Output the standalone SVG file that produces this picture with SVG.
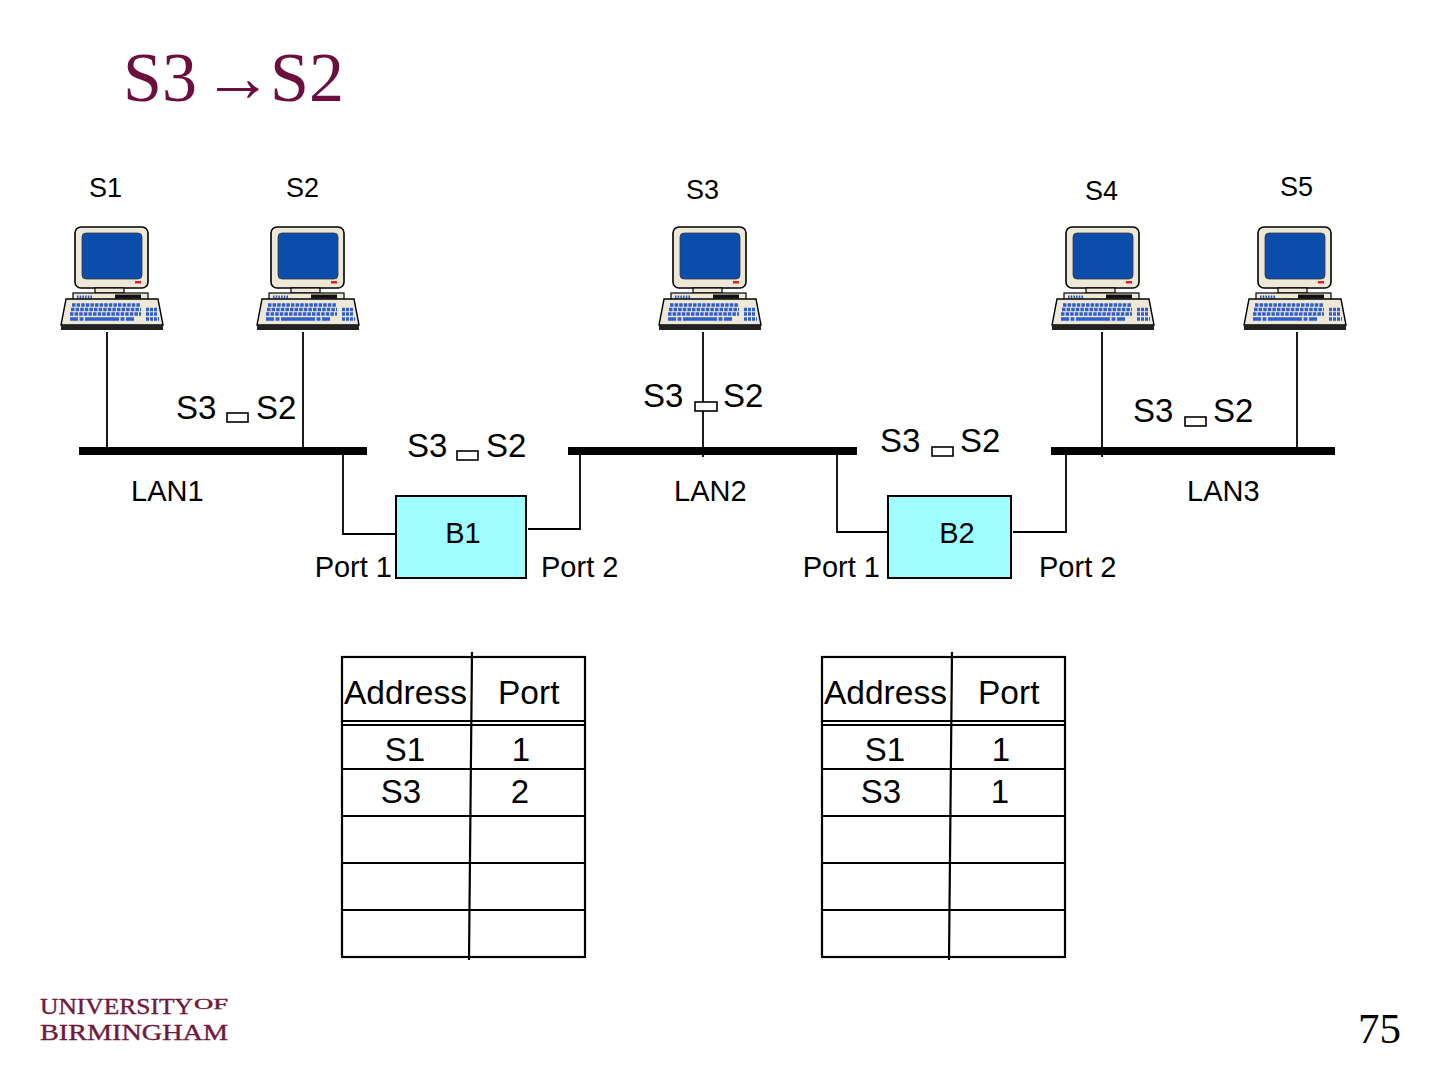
<svg xmlns="http://www.w3.org/2000/svg" xmlns:xlink="http://www.w3.org/1999/xlink" width="1440" height="1080" viewBox="0 0 1440 1080">
<style>
.lbl{font-family:"Liberation Sans",Arial,sans-serif;fill:#000}
.s{font-size:27px}
.m{font-size:33px}
.t{font-size:33.5px}
.p{font-size:29px}
.ln{stroke:#000;stroke-width:1.8;fill:none}
.bar{stroke:#000;stroke-width:8;fill:none}
.tb{stroke:#000;stroke-width:2.2;fill:none}
.tofu{fill:#fff;stroke:#000;stroke-width:1.6}
.bridge{fill:#9FFFFF;stroke:#000;stroke-width:2}
</style>
<defs>
<g id="pc">
  <rect x="-36" y="0" width="73" height="61" rx="6" fill="#EEE8D8" stroke="#000" stroke-width="1.6"/>
  <rect x="-29" y="6" width="60" height="46" rx="4" fill="#0B4DAA" stroke="#3a3a3a" stroke-width="0.8"/>
  <rect x="24" y="54" width="6" height="2.5" fill="#E0201E"/>
  <rect x="-16" y="61" width="29" height="5" fill="#EEE8D8" stroke="#000" stroke-width="1.2"/>
  <rect x="-38" y="66" width="75" height="7" fill="#EEE8D8" stroke="#000" stroke-width="1.2"/>
  <line x1="-34" y1="70" x2="-18" y2="70" stroke="#2a55c0" stroke-width="3" stroke-dasharray="1.5 1.2"/>
  <rect x="4" y="67.5" width="26" height="4" fill="#111"/>
  <polygon points="-45,72 47,72 52,98 -50,98" fill="#EEE8D8" stroke="#000" stroke-width="1.4"/>
  <rect x="-50" y="98" width="102" height="5" fill="#222"/>
  <g stroke="#2f5fcc" fill="none">
    <line x1="-39" y1="78" x2="29" y2="78" stroke-width="3.4" stroke-dasharray="3.5 1.1"/>
    <line x1="-40" y1="82.5" x2="30" y2="82.5" stroke-width="3.4" stroke-dasharray="3.5 1.1"/>
    <line x1="-41" y1="87" x2="30" y2="87" stroke-width="3.4" stroke-dasharray="3.5 1.1"/>
    <line x1="-41" y1="92" x2="31" y2="92" stroke-width="3.4" stroke-dasharray="8 1.5 4 1.5 34 1.5 4 1.5 8"/>
    <line x1="35" y1="82.5" x2="46" y2="82.5" stroke-width="3.4" stroke-dasharray="3 1"/>
    <line x1="35" y1="87" x2="47" y2="87" stroke-width="3.4" stroke-dasharray="3 1"/>
    <line x1="35" y1="92" x2="48" y2="92" stroke-width="3.4" stroke-dasharray="3 1"/>
  </g>
</g>
</defs>
<rect width="1440" height="1080" fill="#fff"/>

<text id="title" y="101" font-family="'Liberation Serif','Times New Roman',serif" font-size="70" fill="#6B0F3F"><tspan x="123">S3</tspan><tspan x="203">→</tspan><tspan x="270">S2</tspan></text>

<g id="connectors">
  <line class="ln" x1="107" y1="332" x2="107" y2="455"/>
  <line class="ln" x1="303" y1="332" x2="303" y2="455"/>
  <line class="ln" x1="703" y1="332" x2="703" y2="457"/>
  <line class="ln" x1="1102" y1="332" x2="1102" y2="457"/>
  <line class="ln" x1="1297" y1="332" x2="1297" y2="455"/>
  <line class="bar" x1="79" y1="451" x2="367" y2="451"/>
  <line class="bar" x1="568" y1="451" x2="857" y2="451"/>
  <line class="bar" x1="1051" y1="451" x2="1335" y2="451"/>
  <polyline class="ln" points="343,451 343,534 395,534"/>
  <polyline class="ln" points="528,529 580,529 580,451"/>
  <polyline class="ln" points="837,451 837,532 888,532"/>
  <polyline class="ln" points="1013,532 1066,532 1066,451"/>
</g>

<g id="S1"><use xlink:href="#pc" x="111" y="227"/><text class="lbl s" x="89" y="197">S1</text></g>
<g id="S2"><use xlink:href="#pc" x="307" y="227"/><text class="lbl s" x="286" y="197">S2</text></g>
<g id="S3"><use xlink:href="#pc" x="709" y="227"/><text class="lbl s" x="686" y="199">S3</text></g>
<g id="S4"><use xlink:href="#pc" x="1102" y="227"/><text class="lbl s" x="1085" y="200">S4</text></g>
<g id="S5"><use xlink:href="#pc" x="1294" y="227"/><text class="lbl s" x="1280" y="196">S5</text></g>

<g id="frame1"><text class="lbl m" x="176" y="419">S3</text><rect class="tofu" x="227" y="413" width="21" height="9"/><text class="lbl m" x="256" y="419">S2</text></g>
<g id="frame2"><text class="lbl m" x="407" y="457">S3</text><rect class="tofu" x="457" y="451" width="21" height="9"/><text class="lbl m" x="486" y="457">S2</text></g>
<g id="frame3"><text class="lbl m" x="643" y="407">S3</text><rect class="tofu" x="695" y="402" width="22" height="9"/><text class="lbl m" x="723" y="407">S2</text></g>
<g id="frame4"><text class="lbl m" x="880" y="452">S3</text><rect class="tofu" x="932" y="447" width="21" height="9"/><text class="lbl m" x="960" y="452">S2</text></g>
<g id="frame5"><text class="lbl m" x="1133" y="422">S3</text><rect class="tofu" x="1185" y="417" width="21" height="9"/><text class="lbl m" x="1213" y="422">S2</text></g>

<g id="LAN1"><text class="lbl p" x="131" y="501">LAN1</text></g>
<g id="LAN2"><text class="lbl p" x="674" y="501">LAN2</text></g>
<g id="LAN3"><text class="lbl p" x="1187" y="501">LAN3</text></g>

<g id="B1">
  <rect class="bridge" x="396" y="496" width="130" height="82"/>
  <text class="lbl p" x="463" y="543" text-anchor="middle">B1</text>
  <text class="lbl p" x="392" y="577" text-anchor="end">Port 1</text>
  <text class="lbl p" x="541" y="577">Port 2</text>
</g>
<g id="B2">
  <rect class="bridge" x="888" y="496" width="123" height="82"/>
  <text class="lbl p" x="957" y="543" text-anchor="middle">B2</text>
  <text class="lbl p" x="880" y="577" text-anchor="end">Port 1</text>
  <text class="lbl p" x="1039" y="577">Port 2</text>
</g>

<g id="table1">
  <rect class="tb" x="342" y="657" width="243" height="300"/>
  <line class="tb" x1="472" y1="652" x2="469" y2="960"/>
  <line class="tb" x1="342" y1="721" x2="585" y2="721"/>
  <line class="tb" x1="342" y1="725" x2="585" y2="725"/>
  <line class="tb" x1="342" y1="769" x2="585" y2="769" stroke-width="3"/>
  <line class="tb" x1="342" y1="816" x2="585" y2="816"/>
  <line class="tb" x1="342" y1="863" x2="585" y2="863"/>
  <line class="tb" x1="342" y1="910" x2="585" y2="910"/>
  <text class="lbl t" x="344" y="704">Address</text>
  <text class="lbl t" x="498" y="704">Port</text>
  <text class="lbl m" x="405" y="761" text-anchor="middle">S1</text>
  <text class="lbl m" x="521" y="761" text-anchor="middle">1</text>
  <text class="lbl m" x="401" y="803" text-anchor="middle">S3</text>
  <text class="lbl m" x="520" y="803" text-anchor="middle">2</text>
</g>
<g id="table2">
  <rect class="tb" x="822" y="657" width="243" height="300"/>
  <line class="tb" x1="952" y1="652" x2="949" y2="960"/>
  <line class="tb" x1="822" y1="721" x2="1065" y2="721"/>
  <line class="tb" x1="822" y1="725" x2="1065" y2="725"/>
  <line class="tb" x1="822" y1="769" x2="1065" y2="769" stroke-width="3"/>
  <line class="tb" x1="822" y1="816" x2="1065" y2="816"/>
  <line class="tb" x1="822" y1="863" x2="1065" y2="863"/>
  <line class="tb" x1="822" y1="910" x2="1065" y2="910"/>
  <text class="lbl t" x="824" y="704">Address</text>
  <text class="lbl t" x="978" y="704">Port</text>
  <text class="lbl m" x="885" y="761" text-anchor="middle">S1</text>
  <text class="lbl m" x="1001" y="761" text-anchor="middle">1</text>
  <text class="lbl m" x="881" y="803" text-anchor="middle">S3</text>
  <text class="lbl m" x="1000" y="803" text-anchor="middle">1</text>
</g>

<g id="logo" font-family="'Liberation Serif','Times New Roman',serif" fill="#6E1A40" stroke="#6E1A40" stroke-width="0.4">
  <text x="40" y="1014" font-size="23.5" textLength="153" lengthAdjust="spacingAndGlyphs">UNIVERSITY</text>
  <text x="194" y="1009" font-size="14" textLength="34" lengthAdjust="spacingAndGlyphs">OF</text>
  <text x="40" y="1040" font-size="23.5" textLength="188" lengthAdjust="spacingAndGlyphs">BIRMINGHAM</text>
</g>
<text id="page" x="1358" y="1043" font-family="'Liberation Serif','Times New Roman',serif" font-size="43" fill="#000">75</text>
</svg>
